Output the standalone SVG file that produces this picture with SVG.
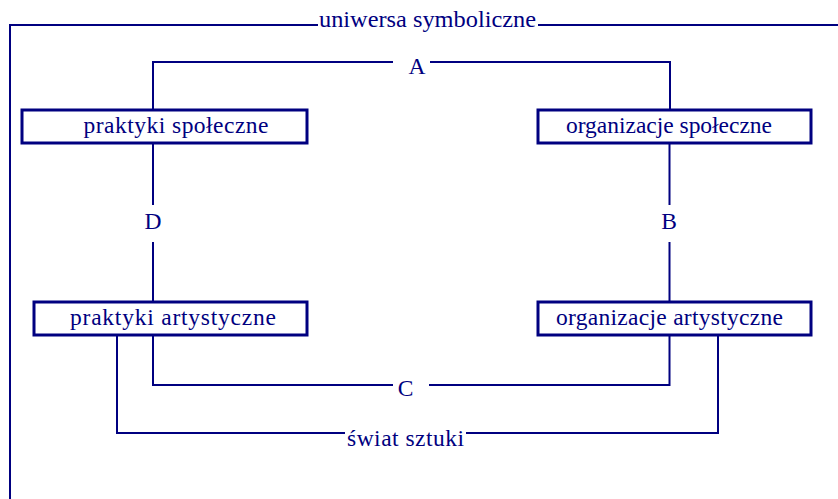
<svg xmlns="http://www.w3.org/2000/svg" width="838" height="499" viewBox="0 0 838 499">
<style>
  .ln { fill: none; stroke: #000080; stroke-width: 2; }
  .box { fill: #ffffff; stroke: #000080; stroke-width: 3; }
  .t { font-family: "Liberation Serif", "Times New Roman", serif; font-size: 23.5px; fill: #000080; }
  .c { text-anchor: middle; }
</style>
<rect width="838" height="499" fill="#ffffff"/>
<g id="connectors">
  <path class="ln" d="M318,25 H10 V499 M538,25 H838"/>
  <path class="ln" d="M153,110 V62 H393 M430,62 H670 V110"/>
  <path class="ln" d="M153,143 V205 M153,242 V302"/>
  <path class="ln" d="M669.5,143 V205 M669.5,242 V302"/>
  <path class="ln" d="M153,335 V385 H393 M429,385 H669.5 V335"/>
  <path class="ln" d="M117,335 V433 H345 M466,433 H718 V335"/>
</g>
<g id="label-uniwersa">
  <text class="t" x="319" y="27" textLength="217" lengthAdjust="spacingAndGlyphs">uniwersa symboliczne</text>
</g>
<g id="label-A"><text class="t c" x="417" y="74">A</text></g>
<g id="label-D"><text class="t c" x="153" y="229">D</text></g>
<g id="label-B"><text class="t c" x="669" y="229">B</text></g>
<g id="label-C"><text class="t c" x="405.5" y="396">C</text></g>
<g id="label-swiat">
  <text class="t" x="347" y="446" textLength="117" lengthAdjust="spacing">świat sztuki</text>
</g>
<g id="node-praktyki-spoleczne">
  <rect class="box" x="22" y="110" width="285" height="33"/>
  <text class="t" x="83.5" y="133" textLength="185" lengthAdjust="spacing">praktyki społeczne</text>
</g>
<g id="node-organizacje-spoleczne">
  <rect class="box" x="538" y="110" width="273" height="33"/>
  <text class="t" x="566" y="133" textLength="206" lengthAdjust="spacing">organizacje społeczne</text>
</g>
<g id="node-praktyki-artystyczne">
  <rect class="box" x="34" y="302" width="273" height="33"/>
  <text class="t" x="70" y="325" textLength="206" lengthAdjust="spacing">praktyki artystyczne</text>
</g>
<g id="node-organizacje-artystyczne">
  <rect class="box" x="538" y="302" width="273" height="33"/>
  <text class="t" x="556" y="325" textLength="227" lengthAdjust="spacing">organizacje artystyczne</text>
</g>
</svg>
